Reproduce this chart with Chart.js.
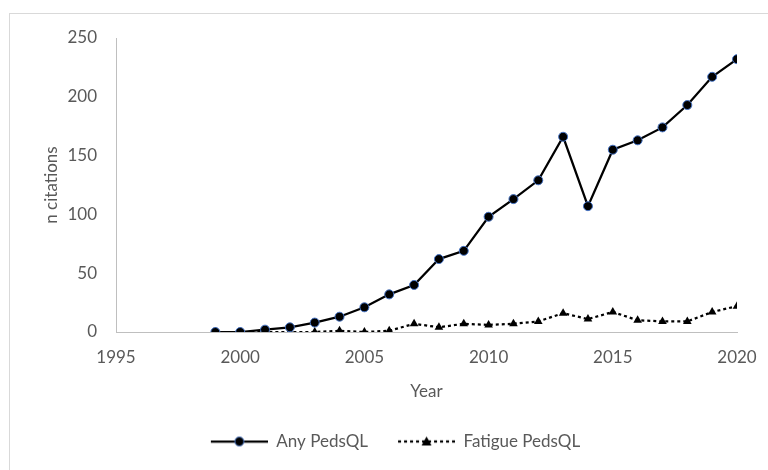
<!DOCTYPE html>
<html>
<head>
<meta charset="utf-8">
<script src="https://cdn.jsdelivr.net/npm/chart.js@4/dist/chart.umd.min.js"></script>
<style>
	html, body { margin: 0; padding: 0; background: #fff; }
	#wrap { width: 768px; height: 470px; position: relative; }
</style>
</head>
<body>
<div id="wrap"><canvas id="chart" width="768" height="470"></canvas></div>
<script>
// values
var years = [1999, 2000, 2001, 2002, 2003, 2004, 2005, 2006, 2007, 2008, 2009,
	2010, 2011, 2012, 2013, 2014, 2015, 2016, 2017, 2018, 2019, 2020];
var anyPedsQL = [0, 0, 2, 4, 8, 13, 21, 32, 40, 62, 69,
	98, 113, 129, 166, 107, 155, 163, 174, 193, 217, 232];
var fatiguePedsQL = [0, 0, 0, 0, 0, 1, 0, 1, 7, 4, 7,
	6, 7, 9, 16, 11, 17, 10, 9, 9, 17, 22];
var seriesNames = ["Any PedsQL", "Fatigue PedsQL"];
var xTicks = [1995, 2000, 2005, 2010, 2015, 2020];
var yTicks = [0, 50, 100, 150, 200, 250];

var GREY = "#595959";
var FONT = "Lato";
var FSIZE = 17;

function points(xs, ys){
	var out = [];
	for(var i = 0; i < xs.length; i++){
		out.push({x: xs[i], y: ys[i]});
	}
	return out;
}

// legend icon: line with the marker in the middle, blank lead-in on the left
function legend_icon(dashed, style){
	var c = document.createElement("canvas");
	c.width = 77; c.height = 14;
	var ctx = c.getContext("2d");
	ctx.strokeStyle = "#000";
	ctx.lineWidth = 2.25;
	if(dashed){ ctx.setLineDash([3, 3]); }
	ctx.beginPath();
	ctx.moveTo(20, 7); ctx.lineTo(77, 7);
	ctx.stroke();
	ctx.setLineDash([]);
	ctx.fillStyle = "#000";
	if(style == "circle"){
		ctx.beginPath();
		ctx.arc(48.5, 7, 4.5, 0, Math.PI * 2);
		ctx.fill();
		ctx.strokeStyle = "#4472C4";
		ctx.lineWidth = 1;
		ctx.stroke();
	} else {
		ctx.beginPath();
		ctx.moveTo(48.5, 2); ctx.lineTo(53.5, 11); ctx.lineTo(43.5, 11);
		ctx.closePath();
		ctx.fill();
	}
	return c;
}

var frame = {
	id: "frame",
	beforeDraw: function(chart){
		var ctx = chart.ctx;
		ctx.save();
		ctx.strokeStyle = "#d9d9d9";
		ctx.lineWidth = 1;
		ctx.strokeRect(9.5, 13.5, 800, 500);
		ctx.restore();
	}
};

var icons = [legend_icon(false, "circle"), legend_icon(true, "triangle")];

new Chart(document.getElementById("chart"), {
	type: "line",
	data: {
		datasets: [
			{
				label: seriesNames[0],
				data: points(years, anyPedsQL),
				borderColor: "#000",
				borderWidth: 2.25,
				pointStyle: "circle",
				pointRadius: 4.5,
				pointBackgroundColor: "#000",
				pointBorderColor: "#4472C4",
				pointBorderWidth: 1,
				tension: 0
			},
			{
				label: seriesNames[1],
				data: points(years, fatiguePedsQL),
				borderColor: "#000",
				borderWidth: 2.25,
				borderDash: [3, 3],
				pointStyle: "triangle",
				pointRadius: 5,
				pointBackgroundColor: "#000",
				pointBorderColor: "#000",
				pointBorderWidth: 0,
				tension: 0
			}
		]
	},
	options: {
		responsive: false,
		animation: false,
		layout: { padding: { left: 30, right: 27, top: 38, bottom: 10 } },
		plugins: {
			tooltip: { enabled: false },
			legend: {
				position: "bottom",
				labels: {
					color: GREY,
					font: { family: FONT, size: FSIZE },
					padding: 10,
					usePointStyle: true,
					pointStyleWidth: 77,
					generateLabels: function(chart){
						return seriesNames.map(function(name, i){
							return {
								text: name,
								pointStyle: icons[i],
								fillStyle: "#000",
								strokeStyle: "#000",
								lineWidth: 0,
								datasetIndex: i,
								fontColor: GREY
							};
						});
					}
				}
			}
		},
		scales: {
			x: {
				type: "linear",
				min: xTicks[0],
				max: xTicks[xTicks.length - 1],
				grid: { display: false, drawTicks: false },
				border: { display: true, color: "#bfbfbf", width: 1 },
				afterBuildTicks: function(s){
					s.ticks = xTicks.map(function(v){ return {value: v}; });
				},
				ticks: {
					color: GREY,
					font: { family: FONT, size: FSIZE },
					padding: 15,
					maxRotation: 0,
					callback: function(v){ return String(v); }
				},
				title: {
					display: true,
					text: "Year",
					color: GREY,
					font: { family: FONT, size: FSIZE },
					padding: { top: 0, bottom: 21 }
				},
				afterFit: function(s){
					s.height = 91;
					s.paddingRight = 31;
				}
			},
			y: {
				min: yTicks[0],
				max: yTicks[yTicks.length - 1],
				grid: { display: false, drawTicks: false },
				border: { display: true, color: "#bfbfbf", width: 1 },
				afterBuildTicks: function(s){
					s.ticks = yTicks.map(function(v){ return {value: v}; });
				},
				ticks: {
					color: GREY,
					font: { family: FONT, size: FSIZE },
					padding: 19
				},
				title: {
					display: true,
					text: "n citations",
					color: GREY,
					font: { family: FONT, size: FSIZE },
					padding: { top: 11, bottom: 8 }
				},
				afterFit: function(s){
					s.width = 86;
				}
			}
		}
	},
	plugins: [frame]
});
</script>
</body>
</html>
